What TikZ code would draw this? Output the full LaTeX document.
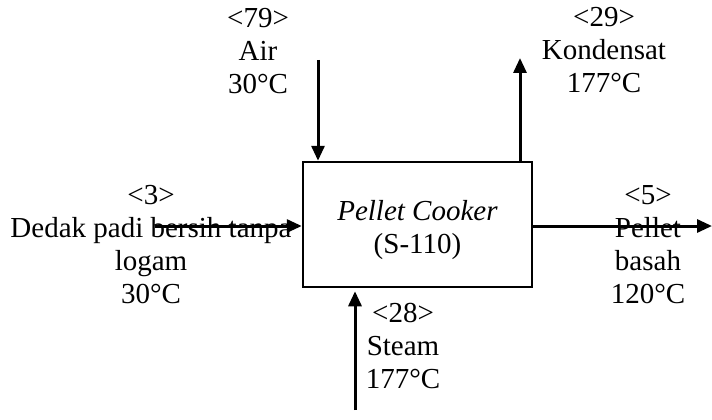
\documentclass[tikz,border=0pt]{standalone}
\usepackage{fontspec}
\setmainfont{Liberation Serif}
\usetikzlibrary{arrows.meta,positioning,calc}
\tikzset{
  unit/.style={draw=black,line width=2.5pt,minimum width=229pt,minimum height=125pt,inner sep=0pt},
  lbl/.style={align=center,inner sep=0pt},
  flow/.style={-{Triangle[length=15pt,width=13pt]},line width=3pt},
}
\begin{document}
\begin{tikzpicture}[x=1pt,y=-1pt,font=\fontsize{29}{33}\selectfont]
  \useasboundingbox (0,0) rectangle (712,420);
  \node[unit] (cooker) at (417.5,224.5) {};
  \node[lbl] (cookerlbl) at ([yshift=-6pt]cooker.center) {\textit{Pellet Cooker}\\(S-110)};

  % stream labels
  \node[lbl] (airlbl) at (258,51) {<79>\\Air\\30°C};
  \node[lbl] (kondlbl) at (604,50) {<29>\\Kondensat\\177°C};
  \node[lbl] (dedaklbl) at (151,245) {<3>\\Dedak padi bersih tanpa\\logam\\30°C};
  \node[lbl] (pelletlbl) at (648,245) {<5>\\Pellet\\basah\\120°C};
  \node[lbl] (steamlbl) at (403,346) {<28>\\Steam\\177°C};

  % stream ends
  \coordinate (airin) at (318,60);
  \coordinate (kondout) at (520,58);
  \coordinate (dedakin) at (155,226);
  \coordinate (pelletout) at (712,226);
  \coordinate (steamin) at (355,410);

  \draw[flow] (airin) -- (airin |- cooker.north);
  \draw[flow] (kondout |- cooker.north) -- (kondout);
  \draw[flow] (dedakin) -- (dedakin -| cooker.west);
  \draw[flow] (pelletout -| cooker.east) -- (pelletout);
  \draw[flow] (steamin) -- ($(steamin |- cooker.south)+(0,3)$);
\end{tikzpicture}
\end{document}
